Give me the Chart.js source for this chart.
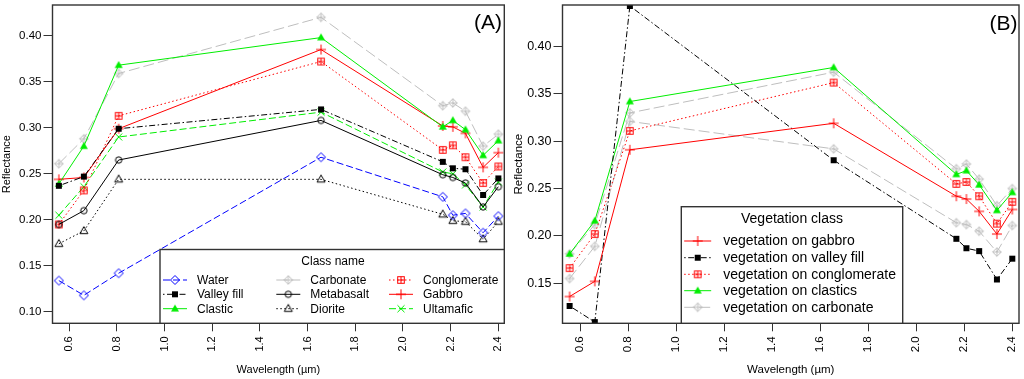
<!DOCTYPE html>
<html><head><meta charset="utf-8">
<script src="https://cdn.jsdelivr.net/npm/chart.js@4/dist/chart.umd.min.js"></script>
<style>
html,body{margin:0;padding:0;background:#fff;}
#wrap{position:relative;width:1024px;height:379px;overflow:hidden;}
canvas{position:absolute;top:0;}
</style></head><body>
<div id="wrap"><canvas id="cA" width="512" height="379" style="left:0"></canvas><canvas id="cB" width="512" height="379" style="left:512px"></canvas></div>
<script>
// ---------- data ----------
const wavelengths = [0.556, 0.661, 0.807, 1.656, 2.167, 2.209, 2.262, 2.336, 2.400];
const xTickValues = [0.6, 0.8, 1.0, 1.2, 1.4, 1.6, 1.8, 2.0, 2.2, 2.4];
const yTickValuesA = [0.10, 0.15, 0.20, 0.25, 0.30, 0.35, 0.40];
const yTickValuesB = [0.15, 0.20, 0.25, 0.30, 0.35, 0.40];

// Panel A: rock classes
const water        = [0.134, 0.118, 0.142, 0.268, 0.225, 0.205, 0.207, 0.186, 0.204];
const valleyFill   = [0.237, 0.247, 0.299, 0.320, 0.263, 0.256, 0.255, 0.227, 0.245];
const clastic      = [0.239, 0.280, 0.368, 0.398, 0.301, 0.308, 0.298, 0.270, 0.286];
const carbonate    = [0.261, 0.288, 0.359, 0.420, 0.324, 0.327, 0.318, 0.280, 0.293];
const metabasalt   = [0.195, 0.210, 0.265, 0.308, 0.249, 0.246, 0.240, 0.214, 0.236];
const diorite      = [0.174, 0.188, 0.244, 0.244, 0.206, 0.199, 0.198, 0.179, 0.198];
const conglomerate = [0.195, 0.232, 0.313, 0.372, 0.276, 0.281, 0.268, 0.240, 0.258];
const gabbro       = [0.244, 0.246, 0.299, 0.385, 0.302, 0.301, 0.294, 0.257, 0.273];
const ultramafic   = [0.205, 0.236, 0.290, 0.317, 0.252, 0.250, 0.238, 0.214, 0.241];

// Panel B: vegetation classes
const vegGabbro       = [0.136, 0.152, 0.291, 0.319, 0.242, 0.239, 0.226, 0.202, 0.228];
const vegValleyFill   = [0.126, 0.109, 0.443, 0.280, 0.197, 0.187, 0.184, 0.154, 0.176];
const vegConglomerate = [0.166, 0.202, 0.311, 0.362, 0.255, 0.257, 0.242, 0.213, 0.236];
const vegClastics     = [0.181, 0.216, 0.342, 0.378, 0.265, 0.269, 0.254, 0.227, 0.246];
const vegCarbonate    = [0.181, 0.212, 0.330, 0.373, 0.271, 0.276, 0.260, 0.232, 0.250];
const vegCarbonate2   = [0.155, 0.189, 0.321, 0.292, 0.214, 0.212, 0.205, 0.183, 0.211];

const FONT = '"Liberation Sans", Arial, Helvetica, sans-serif';
Chart.defaults.font.family = FONT;

// ---------- markers ----------
function marker(kind, color) {
  const s = 16, c = document.createElement('canvas');
  c.width = s; c.height = s;
  const g = c.getContext('2d');
  g.translate(s / 2, s / 2);
  g.strokeStyle = color; g.fillStyle = color; g.lineWidth = 1;
  const diamond = r => { g.beginPath(); g.moveTo(0, -r); g.lineTo(r, 0); g.lineTo(0, r); g.lineTo(-r, 0); g.closePath(); g.stroke(); };
  const plus = r => { g.beginPath(); g.moveTo(-r, 0); g.lineTo(r, 0); g.moveTo(0, -r); g.lineTo(0, r); g.stroke(); };
  switch (kind) {
    case 'diamond': diamond(4.5); break;
    case 'diamondPlus': diamond(4.3); plus(4.3); break;
    case 'square': g.fillRect(-3, -3, 6, 6); break;
    case 'triangle': g.beginPath(); g.moveTo(0, -4.3); g.lineTo(4, 2.7); g.lineTo(-4, 2.7); g.closePath(); g.fill(); break;
    case 'triangleOpen': g.beginPath(); g.moveTo(0, -4.3); g.lineTo(4, 2.7); g.lineTo(-4, 2.7); g.closePath(); g.stroke(); break;
    case 'circle': g.beginPath(); g.arc(0, 0, 3.2, 0, Math.PI * 2); g.stroke(); break;
    case 'squarePlus': g.strokeRect(-3.3, -3.3, 6.6, 6.6); plus(3.3); break;
    case 'plus': plus(5); break;
    case 'x': g.beginPath(); g.moveTo(-3.5, -3.5); g.lineTo(3.5, 3.5); g.moveTo(-3.5, 3.5); g.lineTo(3.5, -3.5); g.stroke(); break;
  }
  return c;
}

const BLUE = '#0000ff', RED = '#ff0000', GREEN = '#00ee00', GRAY = '#bebebe', BLACK = '#000000';
const DASH = [7, 3], LONGDASH = [11, 4], DOT = [1.5, 2.5], DASHDOT = [1.5, 2.5, 6, 2.5];

function ds(label, vals, color, dash, mk) {
  return {
    label, data: wavelengths.map((w, i) => ({ x: w, y: vals[i] })),
    borderColor: color, backgroundColor: color, borderWidth: 1, borderDash: dash,
    pointStyle: marker(mk, color), pointRadius: 4, tension: 0, fill: false
  };
}

const datasetsA = [
  ds('Water', water, BLUE, DASH, 'diamond'),
  ds('Valley fill', valleyFill, BLACK, DASHDOT, 'square'),
  ds('Clastic', clastic, GREEN, [], 'triangle'),
  ds('Carbonate', carbonate, GRAY, LONGDASH, 'diamondPlus'),
  ds('Metabasalt', metabasalt, BLACK, [], 'circle'),
  ds('Diorite', diorite, BLACK, DOT, 'triangleOpen'),
  ds('Conglomerate', conglomerate, RED, DOT, 'squarePlus'),
  ds('Gabbro', gabbro, RED, [], 'plus'),
  ds('Ultamafic', ultramafic, GREEN, DASH, 'x')
];
const datasetsB = [
  ds('vegetation on gabbro', vegGabbro, RED, [], 'plus'),
  ds('vegetation on valley fill', vegValleyFill, BLACK, DASHDOT, 'square'),
  ds('vegetation on conglomerate', vegConglomerate, RED, DOT, 'squarePlus'),
  ds('vegetation on clastics', vegClastics, GREEN, [], 'triangle'),
  ds('vegetation on carbonate', vegCarbonate, GRAY, LONGDASH, 'diamondPlus'),
  ds('vegetation on carbonate', vegCarbonate2, GRAY, LONGDASH, 'diamondPlus')
];

// ---------- plugins ----------
const framePlugin = {
  id: 'frame',
  afterDatasetsDraw(chart) {
    const a = chart.chartArea, c = chart.ctx;
    c.save(); c.strokeStyle = '#333'; c.lineWidth = 1.4;
    c.strokeRect(a.left, a.top, a.right - a.left, a.bottom - a.top);
    c.restore();
  }
};
const boxLegendPlugin = {
  id: 'boxLegend',
  afterDraw(chart, args, o) {
    if (!o || !o.entries) return;
    const c = chart.ctx, a = chart.chartArea;
    const x1 = o.x1 != null ? o.x1 : a.right;
    c.save();
    c.fillStyle = '#fff';
    c.fillRect(o.x0, o.y0, x1 - o.x0, a.bottom - o.y0);
    c.strokeStyle = '#333'; c.lineWidth = 1.4;
    c.strokeRect(o.x0, o.y0, x1 - o.x0, a.bottom - o.y0);
    c.fillStyle = '#000'; c.textAlign = 'center'; c.textBaseline = 'middle';
    c.font = o.titleSize + 'px ' + FONT;
    c.fillText(o.title, o.titleX, o.titleY);
    c.font = o.size + 'px ' + FONT; c.textAlign = 'left';
    o.entries.forEach(e => {
      const d = chart.data.datasets[e.i];
      c.strokeStyle = d.borderColor; c.lineWidth = 1; c.setLineDash(d.borderDash || []);
      c.beginPath(); c.moveTo(e.mx - o.half, e.y); c.lineTo(e.mx + o.half, e.y); c.stroke();
      c.setLineDash([]);
      const m = d.pointStyle;
      c.drawImage(m, e.mx - m.width / 2, e.y - m.height / 2);
      c.fillStyle = '#000';
      c.fillText(d.label, e.mx + o.textOff, e.y + 0.5);
    });
    c.restore();
  }
};
const panelLabelPlugin = {
  id: 'panelLabel',
  afterDraw(chart, args, o) {
    const c = chart.ctx;
    c.save(); c.fillStyle = '#000'; c.font = o.size + 'px ' + FONT;
    c.textAlign = 'right'; c.textBaseline = 'middle';
    c.fillText(o.text, o.x, o.y);
    c.restore();
  }
};

function makeChart(id, datasets, cfg) {
  return new Chart(document.getElementById(id), {
    type: 'line',
    data: { datasets },
    options: {
      responsive: false, animation: false, devicePixelRatio: 1,
      layout: { padding: { top: cfg.padTop, right: cfg.padRight, left: 0, bottom: 0 } },
      plugins: {
        legend: { display: false }, tooltip: { enabled: false },
        boxLegend: cfg.legend, panelLabel: cfg.label
      },
      scales: {
        x: {
          type: 'linear', min: cfg.xmin, max: cfg.xmax,
          afterBuildTicks: s => { s.ticks = xTickValues.map(v => ({ value: v })); },
          afterFit: s => { s.height = cfg.xAxisH; s.paddingLeft = 0; s.paddingRight = 0; },
          grid: { display: true, drawOnChartArea: false, drawTicks: true, tickLength: 8, color: '#333', lineWidth: 1 },
          border: { display: false },
          ticks: { autoSkip: false, minRotation: 90, maxRotation: 90, padding: 5, color: '#000',
                   font: { size: cfg.xTickSize }, callback: v => Number(v).toFixed(1) },
          title: { display: true, text: 'Wavelength (µm)', color: '#000', font: { size: cfg.titleSize }, padding: { top: 0, bottom: 2 } }
        },
        y: {
          type: 'linear', min: cfg.ymin, max: cfg.ymax,
          afterBuildTicks: s => { s.ticks = cfg.yTicks.map(v => ({ value: v })); },
          afterFit: s => { s.width = cfg.yAxisW; s.paddingTop = 0; s.paddingBottom = 0; },
          grid: { display: true, drawOnChartArea: false, drawTicks: true, tickLength: 9, color: '#333', lineWidth: 1 },
          border: { display: false },
          ticks: { autoSkip: false, padding: 2, color: '#000', font: { size: cfg.yTickSize },
                   callback: v => Number(v).toFixed(2) },
          title: { display: true, text: 'Reflectance', color: '#000', font: { size: cfg.titleSize }, padding: { top: 0, bottom: 0 } }
        }
      }
    },
    plugins: [framePlugin, boxLegendPlugin, panelLabelPlugin]
  });
}

const rowsA = [280, 294.3, 308.7], colsA = [175, 288.3, 401];
makeChart('cA', datasetsA, {
  padTop: 0.5, padRight: 7.7, xmin: 0.5295, xmax: 2.425, ymin: 0.0876, ymax: 0.4334,
  yTicks: yTickValuesA, xAxisH: 55.7, yAxisW: 52.5, xTickSize: 11, yTickSize: 11.5, titleSize: 11,
  label: { text: '(A)', x: 502, y: 23.5, size: 21 },
  legend: {
    x0: 160, y0: 249.5, title: 'Class name', titleX: 333, titleY: 261.5, titleSize: 12, size: 12,
    half: 12, textOff: 22,
    entries: datasetsA.map((d, i) => ({ i, mx: colsA[Math.floor(i / 3)], y: rowsA[i % 3] }))
  }
});

const rowsB = [241, 257.7, 274.3, 290.7, 307.3];
makeChart('cB', datasetsB, {
  padTop: 0.5, padRight: 1.7, xmin: 0.5264, xmax: 2.428, ymin: 0.1077, ymax: 0.444,
  yTicks: yTickValuesB, xAxisH: 55.7, yAxisW: 50.5, xTickSize: 11.5, yTickSize: 12.5, titleSize: 11.5,
  label: { text: '(B)', x: 505.5, y: 24, size: 21 },
  legend: {
    x0: 169.3, x1: 390.7, y0: 206.7, title: 'Vegetation class', titleX: 280, titleY: 219.5, titleSize: 14, size: 14,
    half: 13.5, textOff: 25.5,
    entries: [0, 1, 2, 3, 4].map((i, k) => ({ i, mx: 185.7, y: rowsB[k] }))
  }
});
</script>
</body></html>
